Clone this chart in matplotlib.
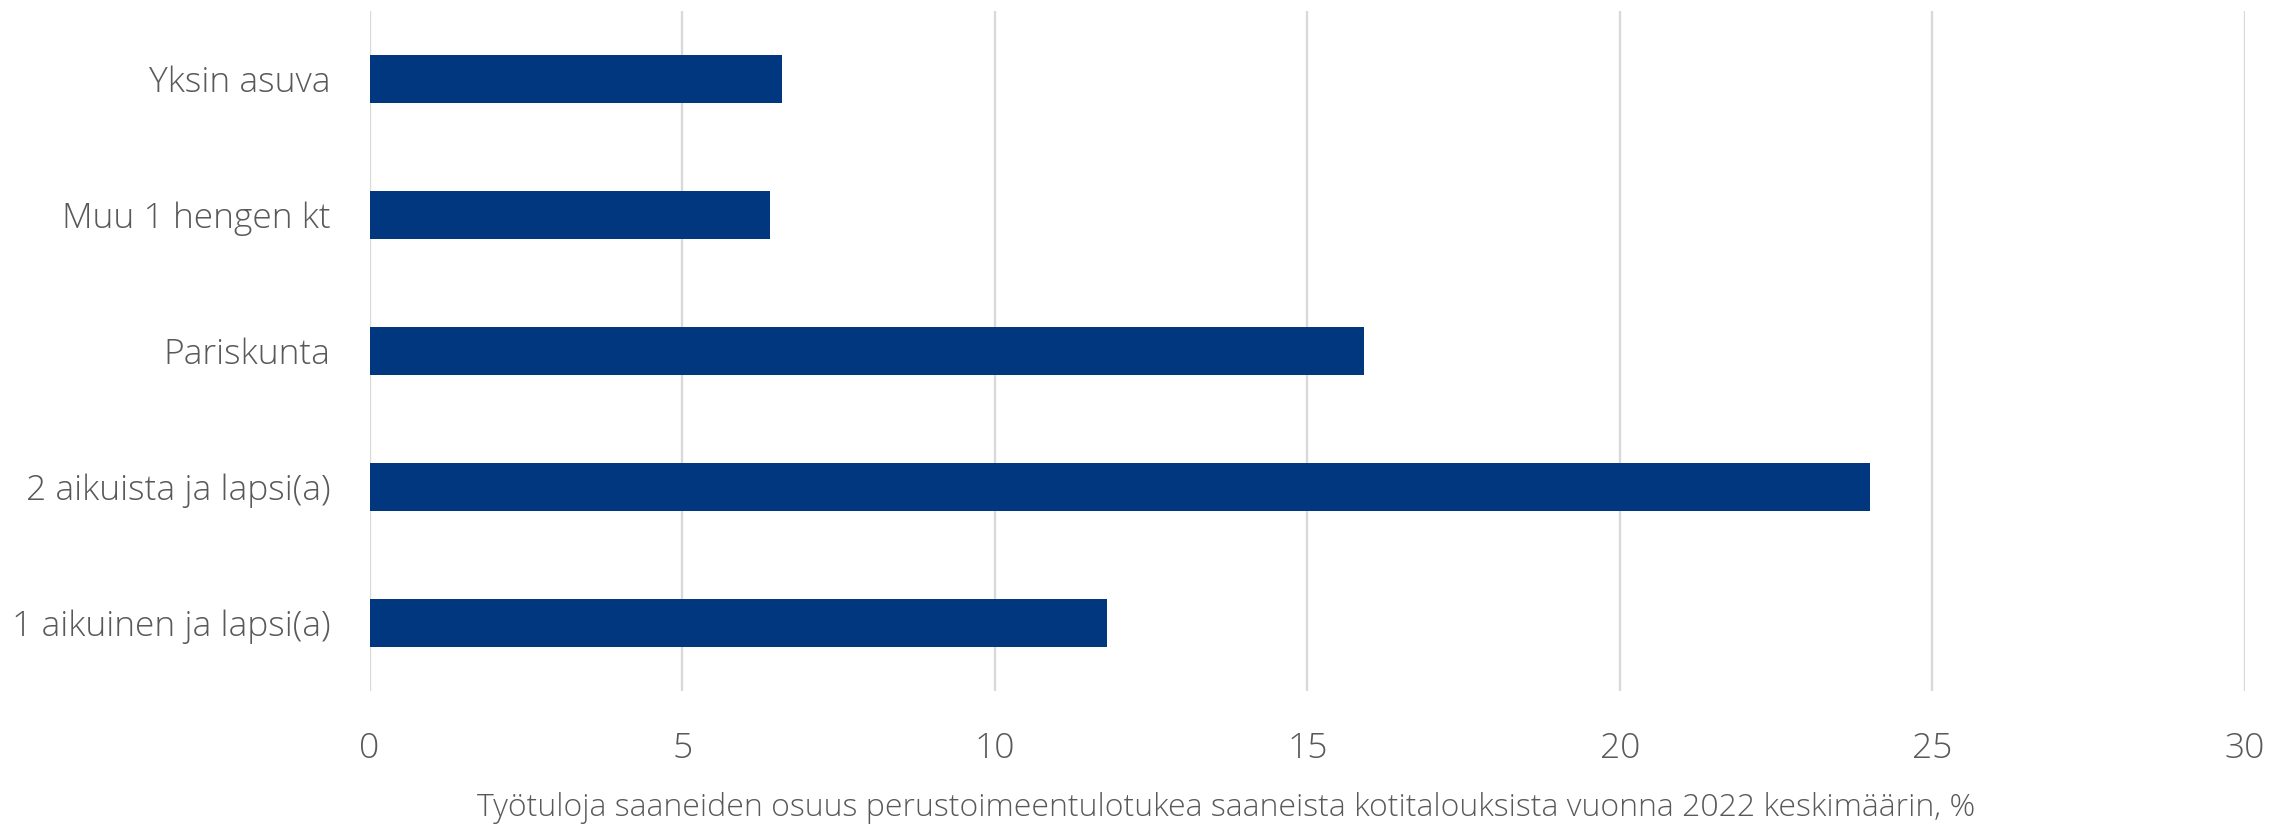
import numpy as np
import matplotlib.pyplot as plt

plt.rcParams['font.family'] = ['Open Sans', 'DejaVu Sans']

# data
categories = ['Yksin asuva', 'Muu 1 hengen kt', 'Pariskunta',
              '2 aikuista ja lapsi(a)', '1 aikuinen ja lapsi(a)']
values = [6.6, 6.4, 15.9, 24.0, 11.8]
xticks = [0, 5, 10, 15, 20, 25, 30]
xlabel = 'Työtuloja saaneiden osuus perustoimeentulotukea saaneista kotitalouksista vuonna 2022 keskimäärin, %'

bar_color = '#00377f'
text_color = '#595959'
grid_color = '#d9d9d9'

fig = plt.figure(figsize=(22.69, 8.24), dpi=100)
ax = fig.add_axes([0.1629, 0.1614, 0.8265, 0.8253])

y = np.arange(len(categories))
ax.barh(y, values, height=0.355, color=bar_color, zorder=3)

ax.set_xlim(0, 30)
ax.set_ylim(len(categories) - 0.5, -0.5)
ax.set_xticks(xticks)
ax.set_xticklabels([str(t) for t in xticks])
ax.set_yticks(y)
ax.set_yticklabels(categories)

ax.grid(axis='x', color=grid_color, linewidth=1.7, zorder=0)
ax.grid(axis='y', visible=False)
for s in ax.spines.values():
    s.set_visible(False)

ax.tick_params(axis='both', length=0, labelsize=25.5, labelcolor=text_color)
ax.tick_params(axis='y', pad=28)
ax.tick_params(axis='x', pad=29)
for lab in ax.get_xticklabels() + ax.get_yticklabels():
    lab.set_fontweight('light')

ax.set_xlabel(xlabel, fontsize=23, color=text_color, fontweight='light')
ax.xaxis.set_label_coords(0.4565, -0.148)

fig.savefig('out.png', dpi=100)
